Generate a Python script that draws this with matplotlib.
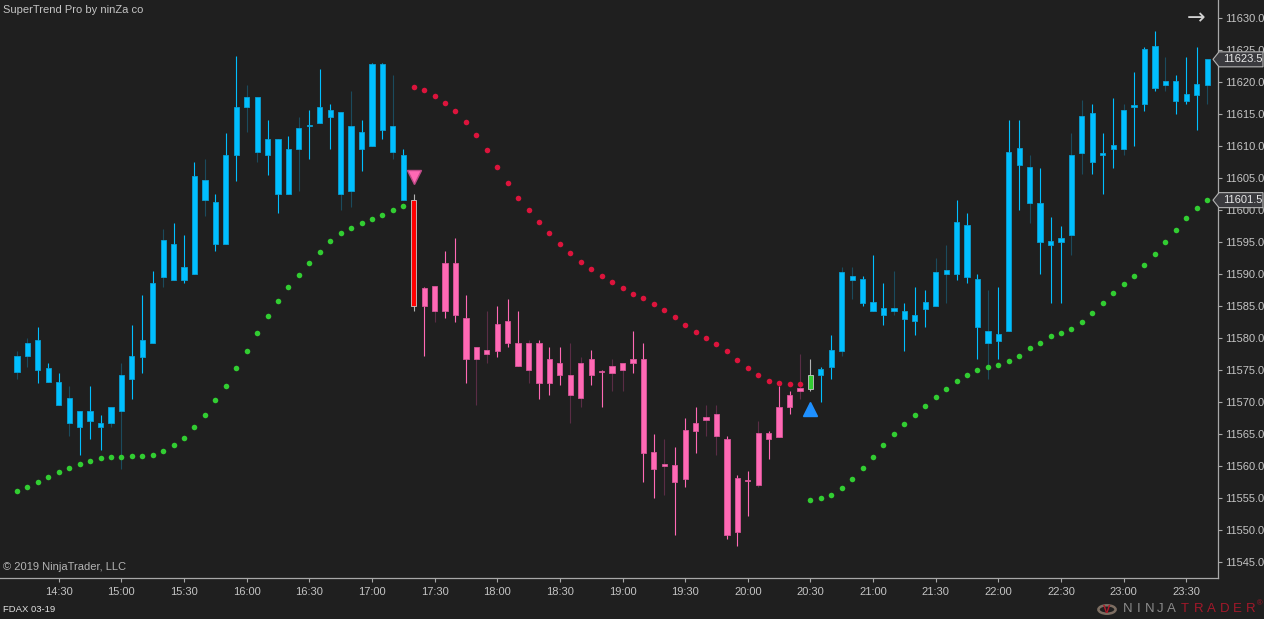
import matplotlib
matplotlib.use('Agg')
import matplotlib.pyplot as plt
from matplotlib.patches import Polygon, Circle
import numpy as np

plt.rcParams['font.family'] = ['Liberation Sans', 'DejaVu Sans']

# 5 minute FDAX 03-19 bars
opens = [11574.6, 11577.1, 11579.6, 11575.2, 11573.1, 11566.6, 11568.6, 11568.6, 11566.7, 11566.6,
         11568.6, 11577.1, 11579.6, 11588.6, 11589.5, 11594.6, 11591.1, 11605.2, 11601.5, 11601.2,
         11608.6, 11616.1, 11616.1, 11609.0, 11611.1, 11611.1, 11609.5, 11609.5, 11613.1, 11616.1,
         11615.6, 11602.5, 11603.0, 11612.1, 11622.7, 11622.7, 11609.0, 11608.6, 11601.5, 11587.7,
         11584.1, 11591.6, 11591.6, 11583.1, 11576.6, 11577.5, 11582.1, 11582.6, 11579.2, 11575.0,
         11579.2, 11576.7, 11576.1, 11571.1, 11570.6, 11576.7, 11574.6, 11574.5, 11575.0, 11576.7,
         11576.7, 11562.1, 11560.0, 11560.1, 11565.6, 11566.7, 11567.1, 11564.6, 11564.2, 11558.1,
         11557.6, 11557.0, 11565.1, 11569.2, 11571.1, 11571.6, 11572.0, 11575.1, 11578.1, 11578.0,
         11589.0, 11589.1, 11585.6, 11584.6, 11584.1, 11584.2, 11583.6, 11585.6, 11585.0, 11590.0,
         11598.1, 11597.6, 11589.1, 11579.1, 11580.6, 11609.0, 11609.6, 11601.1, 11601.1, 11595.1,
         11595.6, 11596.1, 11608.9, 11615.1, 11608.6, 11610.1, 11609.5, 11616.1, 11625.1, 11625.6,
         11619.5, 11620.1, 11618.1, 11619.6, 11619.5]
highs = [11578.0, 11580.0, 11581.6, 11576.1, 11574.5, 11572.5, 11568.6, 11572.5, 11568.0, 11569.2,
         11576.1, 11582.0, 11586.6, 11590.5, 11597.0, 11598.0, 11596.0, 11607.5, 11608.0, 11602.5,
         11612.0, 11624.0, 11619.5, 11617.6, 11614.0, 11611.1, 11611.5, 11614.5, 11615.6, 11622.0,
         11616.5, 11615.2, 11618.6, 11614.0, 11623.0, 11623.0, 11621.1, 11609.5, 11602.5, 11588.0,
         11588.1, 11593.6, 11595.6, 11586.6, 11578.6, 11584.1, 11585.0, 11586.1, 11584.1, 11579.6,
         11579.6, 11578.6, 11578.6, 11579.1, 11577.0, 11578.1, 11575.0, 11576.6, 11576.1, 11581.1,
         11579.1, 11565.0, 11564.1, 11563.0, 11567.5, 11569.1, 11569.5, 11569.5, 11564.6, 11558.6,
         11559.1, 11567.0, 11565.5, 11572.5, 11571.6, 11577.5, 11576.6, 11575.5, 11580.5, 11591.1,
         11591.1, 11589.6, 11593.0, 11588.6, 11590.5, 11585.5, 11588.0, 11587.5, 11592.5, 11594.5,
         11601.5, 11599.5, 11590.0, 11587.5, 11588.0, 11614.0, 11614.0, 11608.5, 11606.5, 11598.9,
         11597.5, 11612.0, 11617.1, 11616.5, 11612.0, 11617.5, 11616.5, 11621.5, 11625.5, 11628.0,
         11623.9, 11621.1, 11623.9, 11625.5, 11623.5]
lows = [11573.6, 11575.5, 11573.0, 11573.1, 11569.5, 11564.6, 11561.6, 11564.1, 11562.5, 11566.1,
        11559.5, 11570.5, 11574.5, 11579.1, 11588.0, 11589.0, 11588.6, 11590.0, 11599.0, 11593.5,
        11594.6, 11604.5, 11612.1, 11607.5, 11605.5, 11599.5, 11602.5, 11603.0, 11608.0, 11613.6,
        11609.5, 11600.0, 11600.5, 11606.0, 11610.0, 11611.1, 11608.0, 11601.5, 11584.1, 11577.1,
        11582.5, 11583.1, 11582.5, 11573.0, 11569.5, 11576.1, 11577.0, 11578.6, 11575.6, 11573.0,
        11570.5, 11571.0, 11572.6, 11566.6, 11569.1, 11572.6, 11569.1, 11571.6, 11571.6, 11574.5,
        11557.5, 11555.0, 11555.5, 11549.1, 11556.6, 11562.0, 11564.6, 11561.6, 11548.6, 11547.5,
        11552.1, 11556.6, 11561.1, 11564.5, 11568.1, 11570.5, 11571.6, 11570.0, 11573.6, 11577.1,
        11586.1, 11585.0, 11584.1, 11582.0, 11583.6, 11578.0, 11580.5, 11581.6, 11585.0, 11585.5,
        11589.0, 11588.5, 11576.6, 11573.6, 11576.6, 11581.1, 11600.0, 11598.0, 11590.0, 11585.5,
        11585.5, 11593.0, 11605.6, 11605.6, 11602.5, 11606.5, 11608.6, 11610.0, 11615.5, 11618.6,
        11618.6, 11615.0, 11616.5, 11612.5, 11616.5]
closes = [11577.1, 11579.2, 11575.0, 11573.1, 11569.5, 11570.6, 11566.1, 11567.0, 11566.1, 11569.2,
          11574.2, 11573.5, 11577.0, 11579.1, 11595.2, 11589.0, 11589.0, 11590.0, 11604.6, 11594.6,
          11594.6, 11608.6, 11617.6, 11617.6, 11608.6, 11602.5, 11602.5, 11612.7, 11613.1, 11613.6,
          11614.5, 11615.2, 11613.1, 11609.5, 11610.0, 11612.5, 11613.1, 11601.5, 11585.0, 11585.0,
          11588.1, 11584.1, 11583.6, 11576.6, 11578.6, 11578.1, 11578.0, 11579.1, 11575.6, 11579.2,
          11573.0, 11573.0, 11574.1, 11574.1, 11576.1, 11574.1, 11574.6, 11575.6, 11576.1, 11576.1,
          11562.0, 11559.5, 11560.2, 11557.5, 11558.0, 11565.5, 11567.6, 11568.1, 11549.1, 11549.6,
          11557.6, 11565.1, 11564.1, 11564.5, 11569.1, 11572.1, 11574.2, 11574.1, 11575.5, 11590.2,
          11589.6, 11585.5, 11584.1, 11583.6, 11584.6, 11583.0, 11582.6, 11584.5, 11590.2, 11590.6,
          11590.0, 11589.5, 11581.6, 11581.1, 11579.5, 11581.1, 11607.0, 11606.6, 11595.0, 11594.5,
          11595.0, 11608.6, 11614.6, 11607.5, 11608.6, 11609.5, 11615.6, 11616.1, 11616.5, 11619.0,
          11620.1, 11617.0, 11617.0, 11618.0, 11623.5]

# SuperTrend stop line (one dot per bar)
stop_line = [11556.0, 11556.6, 11557.4, 11558.3, 11559.0, 11559.6, 11560.2, 11560.7, 11561.2, 11561.4,
             11561.4, 11561.5, 11561.5, 11561.7, 11562.3, 11563.2, 11564.4, 11566.0, 11568.0, 11570.2,
             11572.5, 11575.2, 11578.0, 11580.8, 11583.4, 11585.7, 11587.9, 11589.8, 11591.6, 11593.4,
             11595.1, 11596.3, 11597.1, 11597.9, 11598.5, 11599.2, 11599.9, 11600.6, 11619.1, 11618.7,
             11617.8, 11616.6, 11615.4, 11613.7, 11611.7, 11609.3, 11606.7, 11604.2, 11601.9, 11599.9,
             11598.1, 11596.3, 11594.6, 11593.2, 11591.9, 11590.8, 11589.7, 11588.7, 11587.7, 11586.9,
             11586.2, 11585.3, 11584.3, 11583.2, 11582.0, 11580.9, 11580.0, 11579.0, 11577.9, 11576.5,
             11575.2, 11574.1, 11573.3, 11572.9, 11572.7, 11572.7, 11554.7, 11554.9, 11555.5, 11556.5,
             11558.0, 11559.6, 11561.4, 11563.2, 11564.9, 11566.5, 11568.0, 11569.4, 11570.8, 11572.0,
             11573.2, 11574.2, 11575.0, 11575.5, 11575.8, 11576.3, 11577.2, 11578.4, 11579.2, 11580.2,
             11580.8, 11581.4, 11582.5, 11583.9, 11585.5, 11587.0, 11588.4, 11589.7, 11591.3, 11593.1,
             11595.0, 11596.9, 11598.7, 11600.3, 11601.5]

# trend changes: first bar is in an up trend
trend_flips = [38, 76]
signal_down = [(38, 11605.1)]
signal_up = [(76, 11568.9)]

time_labels = ['14:30', '15:00', '15:30', '16:00', '16:30', '17:00', '17:30', '18:00', '18:30', '19:00',
               '19:30', '20:00', '20:30', '21:00', '21:30', '22:00', '22:30', '23:00', '23:30']
first_label_bar = 4
bars_per_label = 6
price_ticks = np.arange(11545, 11631, 5)

n = len(closes)
x = np.arange(n)
trend = np.ones(n)
for f in trend_flips:
    trend[f:] *= -1

# colours
bg = '#1f1f1f'
cyan, cyan_dim = '#00bfff', '#1b4b5d'
pink, pink_dim = '#ff69b4', '#5a2d45'
axis_col = '#a8a8a8'
text_col = '#c4c4c4'

W, H = 1264, 619
fig = plt.figure(figsize=(W / 100, H / 100), dpi=100, facecolor=bg)
ax = fig.add_axes([0, (H - 578.3) / H, 1218.3 / W, 578.3 / H])
ax.set_facecolor(bg)

# candles
for i in range(n):
    o, h, l, c = opens[i], highs[i], lows[i], closes[i]
    if i in trend_flips:
        body = '#ff0000' if trend[i] < 0 else '#32cd32'
        edge, wick = '#c8c8c8', '#b4b4b4'
    elif trend[i] > 0:
        body, edge = cyan, '#0a9fd4'
        wick = cyan_dim if c > o else cyan
    else:
        body, edge = pink, '#d9559a'
        wick = pink_dim if c > o else pink
    ax.vlines(i, l, h, color=wick, lw=0.8, zorder=2)
    bot = min(o, c)
    hgt = max(abs(c - o), 0.2)
    ax.bar(i, hgt, bottom=bot, width=0.5, color=body, edgecolor=edge, linewidth=0.6, zorder=3)

# stop dots
stop = np.array(stop_line)
ax.scatter(x[trend > 0], stop[trend > 0], s=16, color='#32cd32', linewidths=0, zorder=4)
ax.scatter(x[trend < 0], stop[trend < 0], s=16, color='#dc143c', linewidths=0, zorder=4)

# signal arrows
for i, p in signal_down:
    ax.plot(i, p, marker='v', markersize=10, color=pink, markeredgecolor='#c04a88', zorder=5)
for i, p in signal_up:
    ax.plot(i, p, marker='^', markersize=10, color='#1e90ff', markeredgecolor='#1e90ff', zorder=5)

ax.set_xlim(-1.628, 115.07)
ax.set_ylim(11542.41, 11632.77)

# axes styling
for s in ['top', 'left']:
    ax.spines[s].set_visible(False)
for s in ['right', 'bottom']:
    ax.spines[s].set_color(axis_col)
    ax.spines[s].set_linewidth(0.9)
ax.yaxis.tick_right()
ax.set_yticks(price_ticks)
ax.set_yticklabels(['%.1f' % p for p in price_ticks])
tick_pos = [first_label_bar + k * bars_per_label for k in range(len(time_labels))]
ax.set_xticks(tick_pos)
ax.set_xticklabels(time_labels)
ax.tick_params(axis='both', colors=axis_col, labelcolor=text_col, labelsize=8, length=3, width=0.8)
ax.tick_params(axis='y', pad=2)
ax.tick_params(axis='x', pad=3)


# price boxes on the right axis
def price_box(price):
    fig.canvas.draw()
    yd = ax.transData.transform((0, price))[1]
    pts = [(1213, yd), (1219, yd + 7.5), (1263, yd + 7.5), (1263, yd - 7.5), (1219, yd - 7.5)]
    pts = [(px / W, py / H) for px, py in pts]
    fig.add_artist(Polygon(pts, closed=True, transform=fig.transFigure, facecolor='#3a3a3e',
                           edgecolor='#b4b4b4', linewidth=0.8, zorder=10))
    fig.text(1223 / W, yd / H, '%.1f' % price, color='#e8e8e8', fontsize=8, va='center',
             ha='left', zorder=11)


price_box(closes[-1])
price_box(stop_line[-1])

# texts
fig.text(3 / W, 1 - 10 / H, 'SuperTrend Pro by ninZa co', color=text_col, fontsize=8, va='center')
fig.text(3 / W, 1 - 567.5 / H, '\u00a9 2019 NinjaTrader, LLC', color='#b4b4b4', fontsize=8, va='center')
fig.text(3 / W, 1 - 609.5 / H, 'FDAX 03-19', color='#e0e0e0', fontsize=6.8, va='center')
fig.text(1196 / W, 1 - 18 / H, '\u2192', color='#d2d2d2', fontsize=16, va='center', ha='center',
         family='DejaVu Sans')

# NinjaTrader logo
fig.add_artist(Circle((1107 / W, 1 - 609.5 / H), 0.0068, transform=fig.transFigure,
                      facecolor='none', edgecolor='#7d6e62', linewidth=1.8))
fig.text(1107 / W, 1 - 610 / H, 'V', color='#b0182a', fontsize=8, fontweight='bold',
         va='center', ha='center')
for k, ch in enumerate('NINJA'):
    fig.text((1128 + k * 10.8) / W, 1 - 609.5 / H, ch, color='#8a8a8a', fontsize=9.5,
             va='center', ha='center')
for k, ch in enumerate('TRADER'):
    fig.text((1185 + k * 13.2) / W, 1 - 609.5 / H, ch, color='#a3182a', fontsize=9.5,
             va='center', ha='center')
fig.text(1260 / W, 1 - 604 / H, '\u00ae', color='#a3182a', fontsize=5.5, va='center', ha='center')

fig.savefig('out.png', dpi=100, facecolor=bg)
